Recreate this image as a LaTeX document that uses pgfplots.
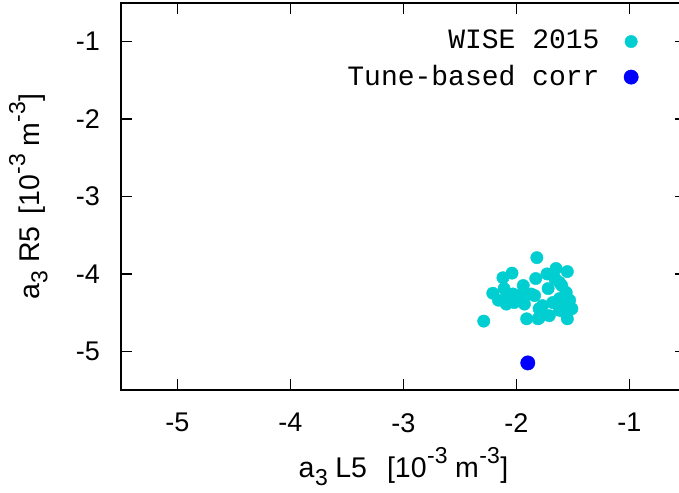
\documentclass[border=0pt]{standalone}
\usepackage{fontspec}
\setmainfont{Liberation Sans}
\newfontfamily\monofont{Liberation Mono}
\usepackage{pgfplots}
\pgfplotsset{compat=1.18}
\definecolor{wise}{RGB}{0,206,209}
\definecolor{tune}{RGB}{0,0,255}

% sub- and superscripts at 0.8 of the label size
\newcommand{\lsub}[1]{\kern0.5bp\raisebox{-0.28em}{\fontsize{23bp}{23bp}\selectfont #1}\kern0.5bp}
\newcommand{\lsup}[1]{\kern0.5bp\raisebox{0.5em}{\fontsize{23bp}{23bp}\selectfont #1}\kern0.5bp}
\newcommand{\xlab}{a\lsub{3}\kern7bp L5\kern20bp[10\lsup{-3}\kern7bp m\lsup{-3}]}
\newcommand{\ylab}{a\lsub{3}\kern7bp R5\kern12bp[10\lsup{-3}\kern7bp m\lsup{-3}]}

% WISE 2015 a3 multipole errors, L5 vs R5 [1e-3 m^-3]
\pgfplotstableread{
x y
-1.82 -3.79
-2.12 -4.05
-2.04 -3.99
-2.21 -4.25
-2.29 -4.61
-2.16 -4.34
-2.11 -4.19
-2.09 -4.39
-2.03 -4.26
-2.02 -4.37
-1.94 -4.15
-1.93 -4.39
-1.91 -4.58
-1.83 -4.06
-1.84 -4.28
-1.80 -4.57
-1.73 -4.00
-1.65 -3.93
-1.55 -3.97
-1.62 -4.11
-1.72 -4.19
-1.77 -4.41
-1.71 -4.54
-1.62 -4.32
-1.56 -4.24
-1.53 -4.34
-1.51 -4.45
-1.55 -4.58
-1.62 -4.47
-1.68 -4.37
-1.80 -4.45
-1.87 -4.26
-1.97 -4.28
-2.08 -4.30
-1.60 -4.15
-1.66 -4.06
-1.81 -4.58
-1.56 -4.52
-1.54 -4.40
-1.58 -4.30
}\wisedata

\pgfplotstableread{
x y
-1.90 -5.15
}\tunedata

\begin{document}
\fontsize{27bp}{32bp}\selectfont
\begin{tikzpicture}
\begin{axis}[
  at={(0,0)}, anchor=south west,
  scale only axis, width=565bp, height=387bp,
  xmin=-5.5, xmax=-0.5, ymin=-5.5, ymax=-0.5,
  xtick={-5,-4,-3,-2,-1}, xticklabels={-5,-4,-3,-2,-1},
  ytick={-5,-4,-3,-2,-1}, yticklabels={-5,-4,-3,-2,-1},
  tick align=inside, major tick length=11bp,
  axis line style={line width=1.6bp},
  every tick/.style={line width=1.3bp, black},
  ticklabel style={font=\fontsize{27bp}{32bp}\selectfont},
  xticklabel style={yshift=-14bp},
  yticklabel style={xshift=-12bp},
  label style={font=\fontsize{28.5bp}{32bp}\selectfont},
  xlabel={\xlab},
  ylabel={\ylab},
  xlabel style={yshift=3bp},
  ylabel style={yshift=10bp},
  legend plot pos=right,
  legend cell align=right,
  legend image code/.code={%
    \path (0bp,0bp) (38bp,0bp);
    \draw[#1] plot coordinates {(29.5bp,0bp)};},
  legend style={draw=none, fill=none, at={(0.924,0.9406)}, anchor=north east,
    font=\monofont\fontsize{28bp}{32bp}\selectfont, row sep=8bp},
]
\addplot[only marks, mark=*, mark size=6.2bp, color=wise] table[x=x, y=y] {\wisedata};
\addlegendentry{WISE 2015}
\addplot[only marks, mark=*, mark size=7.2bp, color=tune] table[x=x, y=y] {\tunedata};
\addlegendentry{Tune-based corr}
\end{axis}
\pgfresetboundingbox
\useasboundingbox (-121bp,-103bp) rectangle (558bp,390bp);
\end{tikzpicture}
\end{document}
